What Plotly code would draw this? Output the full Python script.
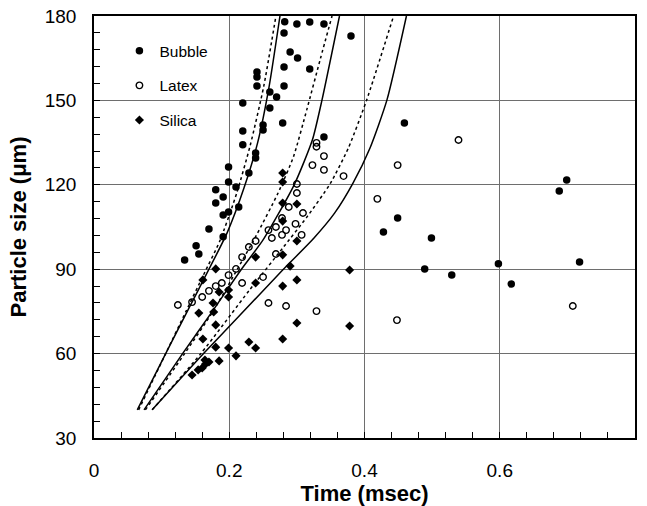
import plotly.graph_objects as go

# ---- data ----
bubble_t = [0.134, 0.155, 0.151, 0.170, 0.191, 0.191, 0.180, 0.199, 0.214, 0.191, 0.180, 0.210,
            0.199, 0.199, 0.229, 0.220, 0.239, 0.239, 0.220, 0.250, 0.250, 0.279, 0.220, 0.260,
            0.270, 0.260, 0.241, 0.241, 0.241, 0.281, 0.281, 0.319, 0.290, 0.301, 0.281, 0.282,
            0.300, 0.319, 0.340, 0.380, 0.340, 0.459, 0.449, 0.428, 0.499, 0.489, 0.529, 0.598,
            0.617, 0.699, 0.688, 0.718]
bubble_v = [93.3, 95.4, 98.3, 104.3, 101.5, 109.3, 113.5, 110.3, 112.1, 115.7, 118.2, 119.2,
            121.0, 126.3, 124.2, 134.2, 131.3, 129.5, 139.1, 141.3, 139.5, 142.0, 149.1, 147.3,
            151.2, 153.0, 155.1, 158.3, 160.1, 155.1, 161.9, 161.2, 167.2, 165.1, 174.0, 178.0,
            177.2, 177.9, 177.2, 172.9, 137.0, 142.0, 108.2, 103.2, 101.1, 90.1, 87.9, 91.9,
            84.7, 121.7, 117.8, 92.6]

latex_t = [0.124, 0.145, 0.160, 0.170, 0.180, 0.189, 0.199, 0.210, 0.219, 0.219, 0.229, 0.239,
           0.258, 0.269, 0.278, 0.278, 0.263, 0.284, 0.298, 0.307, 0.309, 0.269, 0.250, 0.258,
           0.284, 0.329, 0.288, 0.300, 0.300, 0.329, 0.329, 0.340, 0.323, 0.340, 0.369, 0.419,
           0.449, 0.539, 0.448, 0.708]
latex_v = [77.3, 78.3, 80.1, 82.3, 84.0, 85.1, 87.9, 90.1, 85.1, 94.3, 97.9, 100.0,
           103.9, 105.0, 108.2, 102.2, 101.1, 103.9, 106.1, 102.2, 110.0, 95.4, 87.2, 78.0,
           76.9, 75.1, 112.1, 117.1, 120.3, 134.9, 133.5, 130.2, 127.0, 125.3, 123.1, 115.0,
           127.0, 135.9, 71.9, 76.9]

silica_t = [0.279, 0.279, 0.279, 0.300, 0.279, 0.300, 0.279, 0.290, 0.300, 0.239, 0.239, 0.279,
            0.180, 0.161, 0.199, 0.199, 0.185, 0.176, 0.177, 0.155, 0.180, 0.161, 0.229, 0.239,
            0.180, 0.199, 0.210, 0.185, 0.170, 0.165, 0.160, 0.164, 0.154, 0.145, 0.279, 0.300,
            0.378, 0.378]
silica_v = [124.2, 121.0, 113.5, 113.2, 107.1, 100.0, 95.1, 91.1, 86.2, 94.3, 85.1, 84.0,
            90.1, 86.2, 82.6, 80.1, 81.9, 78.0, 74.8, 74.4, 70.2, 65.2, 64.1, 62.0,
            62.3, 62.0, 59.2, 57.4, 57.0, 56.3, 54.9, 57.7, 54.2, 52.4, 65.2, 70.9,
            89.7, 69.8]

# model curves (solid / dotted pairs)
solidA_t = [0.064, 0.106, 0.140, 0.170, 0.197, 0.222, 0.242, 0.259, 0.275]
solidA_v = [40, 60, 76, 90, 103, 119, 135, 155, 180]
dotA_t = [0.066, 0.106, 0.136, 0.162, 0.186, 0.211, 0.231, 0.251, 0.269]
dotA_v = [40, 60, 75, 88, 100, 117, 134, 155, 180]

solidB_t = [0.074, 0.131, 0.175, 0.218, 0.250, 0.296, 0.323, 0.337, 0.363]
solidB_v = [40, 60, 75, 90, 100.4, 120, 136, 150, 180]
dotB_t = [0.076, 0.134, 0.176, 0.212, 0.240, 0.272, 0.295, 0.315, 0.335, 0.352]
dotB_v = [40, 60, 75, 90, 102, 117, 130, 147, 165, 180]

solidC_t = [0.086, 0.162, 0.216, 0.279, 0.325, 0.356, 0.383, 0.408, 0.433, 0.462]
solidC_v = [40, 60, 73.7, 89.7, 101, 110, 120.6, 133, 150, 180]
dotC_t = [0.086, 0.158, 0.230, 0.279, 0.315, 0.349, 0.376, 0.403, 0.443]
dotC_v = [40, 60, 82.6, 97.5, 108.6, 120.3, 133, 150, 180]

FONT = "Arial, Liberation Sans, sans-serif"

fig = go.Figure()

for tt, vv, dash in [(solidA_t, solidA_v, "solid"), (dotA_t, dotA_v, "dot"),
                     (solidB_t, solidB_v, "solid"), (dotB_t, dotB_v, "dot"),
                     (solidC_t, solidC_v, "solid"), (dotC_t, dotC_v, "dot")]:
    fig.add_trace(go.Scatter(x=tt, y=vv, mode="lines", showlegend=False,
                             line=dict(color="black", width=1.5, dash=dash,
                                       shape="spline", smoothing=0.6),
                             hoverinfo="skip"))

fig.add_trace(go.Scatter(x=bubble_t, y=bubble_v, mode="markers", name="Bubble",
                         legendgroup="b",
                         marker=dict(symbol="circle", size=7.5, color="black")))
fig.add_trace(go.Scatter(x=latex_t, y=latex_v, mode="markers", name="Latex",
                         legendgroup="l",
                         marker=dict(symbol="circle-open", size=6.5, color="black",
                                     line=dict(width=1.4, color="black"))))
fig.add_trace(go.Scatter(x=silica_t, y=silica_v, mode="markers", name="Silica",
                         legendgroup="s",
                         marker=dict(symbol="diamond", size=7, color="black")))

fig.update_layout(
    width=647, height=506,
    margin=dict(l=94, r=12, t=16, b=68),
    paper_bgcolor="white", plot_bgcolor="white",
    font=dict(family=FONT, color="black"),
    legend=dict(x=0.047, y=0.957, xanchor="left", yanchor="top",
                bgcolor="rgba(0,0,0,0)", borderwidth=0,
                font=dict(size=15.5, family=FONT),
                tracegroupgap=11.5),
)

fig.update_xaxes(
    range=[0, 0.8], tickvals=[0, 0.2, 0.4, 0.6, 0.8],
    ticktext=["0", "0.2", "0.4", "0.6", "0.8"],
    showgrid=True, gridcolor="#6e6e6e", gridwidth=1,
    showline=True, linecolor="black", linewidth=1.5, mirror=True,
    ticks="inside", ticklen=6, tickcolor="black", tickwidth=1.3,
    minor=dict(dtick=0.04, ticks="inside", ticklen=6, tickcolor="black", tickwidth=1.3, showgrid=False),
    tickfont=dict(size=19, family=FONT), ticklabelstandoff=14,
    zeroline=False, automargin=False,
    title=dict(text="<b>Time (msec)</b>", font=dict(size=22, family=FONT), standoff=8),
)
fig.update_yaxes(
    range=[30, 180], tickvals=[30, 60, 90, 120, 150, 180],
    showgrid=True, gridcolor="#6e6e6e", gridwidth=1,
    showline=True, linecolor="black", linewidth=1.5, mirror=True,
    ticks="inside", ticklen=6, tickcolor="black", tickwidth=1.3,
    minor=dict(dtick=6, ticks="inside", ticklen=6, tickcolor="black", tickwidth=1.3, showgrid=False),
    tickfont=dict(size=19, family=FONT), ticklabelstandoff=12,
    zeroline=False, automargin=False,
    title=dict(text="<b>Particle size (μm)</b>", font=dict(size=22, family=FONT), standoff=12),
)

fig.write_html("out.html")
